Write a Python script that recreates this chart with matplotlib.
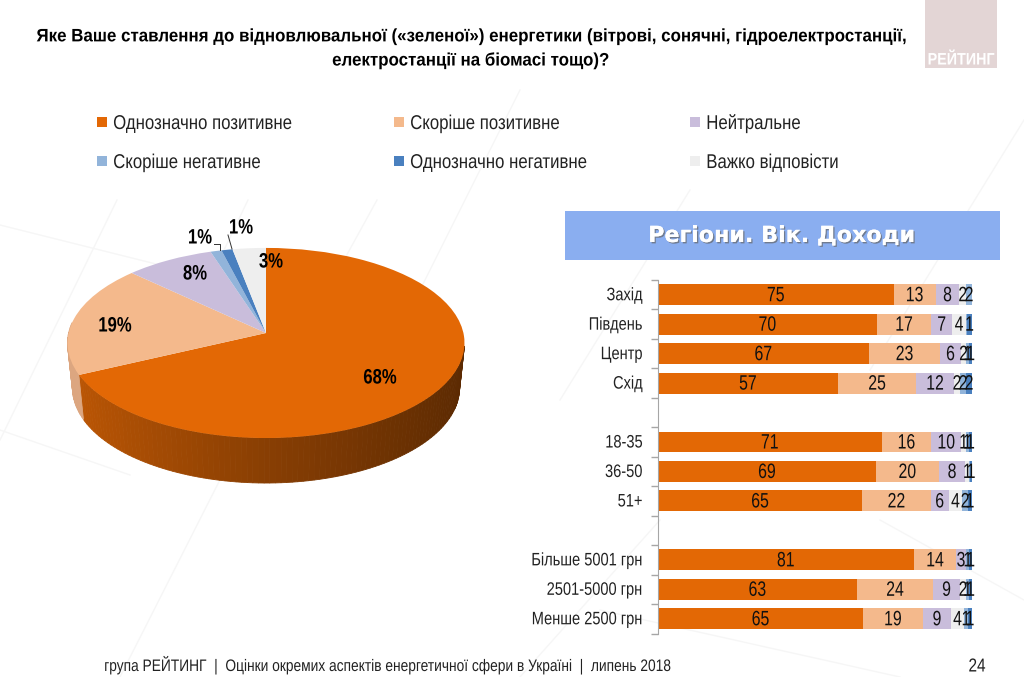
import numpy as np
from matplotlib import pyplot as plt
from matplotlib.transforms import Affine2D, Transform
import matplotlib.patheffects as pe

plt.rcParams['font.family'] = ['Liberation Sans', 'DejaVu Sans']

legend_labels = ['Однозначно позитивне', 'Скоріше позитивне', 'Нейтральне',
                 'Скоріше негативне', 'Однозначно негативне', 'Важко відповісти']
legend_colors = ['#e36805', '#f4b98c', '#c9bddb', '#92b4da', '#4a80bf', '#eeeeee']

pie_values = [68, 19, 8, 1, 1, 3]
pie_colors = ['#e36805', '#f4b98c', '#c9bddb', '#92b4da', '#4a80bf', '#eeeeee']

row_labels = ['Захід', 'Південь', 'Центр', 'Схід', '',
              '18-35', '36-50', '51+', '',
              'Більше 5001 грн', '2501-5000 грн', 'Менше 2500 грн']
very_positive = [75.0, 69.7, 67.1, 57.3, 0, 71.2, 69.4, 65.0, 0, 81.4, 63.3, 65.3]
rather_positive = [13.4, 17.3, 22.8, 24.9, 0, 15.8, 20.0, 21.8, 0, 13.6, 24.3, 19.0]
neutral = [7.6, 6.7, 6.5, 12.0, 0, 9.6, 8.5, 5.8, 0, 3.0, 8.6, 9.1]
hard_to_say = [2.1, 4.4, 1.8, 2.0, 0, 1.4, 1.2, 4.3, 0, 0.2, 1.9, 4.0]
rather_negative = [1.9, 0.4, 0.9, 1.9, 0, 1.0, 0.3, 1.8, 0, 0.9, 0.95, 1.3]
very_negative = [0.0, 1.4, 0.9, 1.9, 0, 1.0, 0.6, 1.3, 0, 0.9, 0.95, 1.3]
bar_series = [very_positive, rather_positive, neutral, hard_to_say, rather_negative, very_negative]
bar_colors = ['#e36805', '#f4b98c', '#c9bddb', '#eeeeee', '#92b4da', '#4a80bf']

W, H = 1024, 677


class Tilt(Transform):
    # unit circle -> slightly perspective ellipse, in pixels around the apex
    input_dims = 2
    output_dims = 2
    is_affine = False

    def transform_non_affine(self, values):
        values = np.asarray(values)
        w = 1 + 0.105 * values[:, 1]
        return np.column_stack((197.4 * values[:, 0] / w, 94 * values[:, 1] / w))


class Squeeze(pe.AbstractPathEffect):
    # the reference font is condensed, none is installed, so narrow the glyphs
    def __init__(self, sx, anchor=0.5):
        super().__init__()
        self.sx = sx
        self.anchor = anchor

    def draw_path(self, renderer, gc, tpath, affine, rgbFace=None):
        ext = tpath.get_extents()
        pivot = ext.x0 + self.anchor * ext.width
        squeezed = Affine2D().translate(-pivot, 0).scale(self.sx, 1).translate(pivot, 0) + affine
        renderer.draw_path(gc, tpath, squeezed, rgbFace)


fig = plt.figure(figsize=(W / 100, H / 100), dpi=100, facecolor='white')

bg = fig.add_axes([0, 0, 1, 1], zorder=0)
bg.set_xlim(0, W)
bg.set_ylim(H, 0)
bg.axis('off')

for x0, y0, x1, y1 in [(117, 200, 0, 440), (0, 225, 160, 265), (248, 200, 200, 300),
                       (377, 200, 300, 340), (520, 90, 400, 330), (690, 190, 560, 400),
                       (1024, 120, 870, 370), (0, 430, 130, 475), (600, 610, 900, 677),
                       (1024, 600, 880, 520), (120, 677, 230, 460), (520, 677, 660, 520)]:
    bg.plot([x0, x1], [y0, y1], color='#f6f6f6', lw=1, zorder=1)

bg.fill_between([925, 997], 0, 68, color='#e3d5d5', lw=0, zorder=2)
bg.text(961, 60, 'РЕЙТИНГ', color='white', fontsize=12, fontweight='bold',
        ha='center', va='center', path_effects=[Squeeze(0.86)], zorder=3)

title_fx = [Squeeze(0.937)]
bg.text(470, 36.5, 'Яке Ваше ставлення до відновлювальної («зеленої») енергетики (вітрові, сонячні, гідроелектростанції,',
        fontsize=13, fontweight='bold', ha='center', va='center', path_effects=title_fx)
bg.text(470, 60.5, 'електростанції на біомасі тощо)?', fontsize=13, fontweight='bold',
        ha='center', va='center', path_effects=title_fx)

for i, (label, color) in enumerate(zip(legend_labels, legend_colors)):
    lx = [97, 394, 690][i % 3]
    ly = [122, 161][i // 3]
    bg.scatter([lx + 5], [ly], marker='s', s=60, color=color, lw=0, zorder=3)
    bg.text(lx + 16, ly + 1.5, label, fontsize=14.4, ha='left', va='center', color='#222222',
            path_effects=[Squeeze(0.84, 0)])

bg.fill_between([565, 1000], 211, 260, color='#8aaef0', lw=0, zorder=2)
bg.text(782, 236, 'Регіони. Вік. Доходи', color='white', fontsize=16, fontweight='bold',
        family=['DejaVu Sans'], ha='center', va='center', zorder=3,
        path_effects=[pe.withSimplePatchShadow(offset=(1, -1), shadow_rgbFace='#666666', alpha=0.7), pe.Normal()])

bg.text(104, 665, 'група РЕЙТИНГ  |  Оцінки окремих аспектів енергетичної сфери в Україні  |  липень 2018',
        fontsize=12, ha='left', va='center', color='#222222', path_effects=[Squeeze(0.826, 0)])
bg.text(977, 667, '24', fontsize=13.5, ha='center', va='center', color='#222222', path_effects=[Squeeze(0.82)])

# pie, top face plus a shaded rim
pie_ax = fig.add_axes([0, 0, 1, 1], zorder=1)
wedges, _ = pie_ax.pie(pie_values, colors=pie_colors, startangle=90, counterclock=False,
                       wedgeprops={'linewidth': 0})
pie_ax.set_aspect('auto')
pie_ax.set_xlim(-266, W - 266)
pie_ax.set_ylim(333 - H, 333)
pie_ax.axis('off')
tilt = Tilt()
for wedge in wedges:
    wedge.set_transform(tilt + pie_ax.transData)
    wedge.set_clip_on(False)
    wedge.set_zorder(3)

orange_end = 90 - 360 * pie_values[0] / sum(pie_values)
angles = np.deg2rad(np.arange(-8, -188, -1.5))
for a0, a1 in zip(angles[:-1], angles[1:]):
    rim = tilt.transform_non_affine(np.array([[np.cos(a0), np.sin(a0)], [np.cos(a1), np.sin(a1)]]))
    low = rim[::-1] * [0.975, 1] - [0, 45]
    poly = np.vstack((rim, low))
    if np.rad2deg(a1) >= orange_end - 1:
        shade = np.interp(np.cos((a0 + a1) / 2), [-1, 0, 1], [0.84, 0.60, 0.40])
        color = np.array([0xe3, 0x68, 0x05]) / 255 * shade
    else:
        color = np.array([0xdc, 0xa6, 0x80]) / 255
    pie_ax.fill(poly[:, 0], poly[:, 1], color=color, lw=0.6, zorder=2, clip_on=False)

for text, px, py in [('68%', 380, 378), ('19%', 115, 326), ('8%', 195, 274),
                     ('1%', 200, 238), ('1%', 241, 228), ('3%', 271, 262)]:
    pie_ax.text(px - 266, 333 - py, text, fontsize=15, fontweight='bold', ha='center', va='center',
                zorder=10, path_effects=[Squeeze(0.8)])
pie_ax.plot([214 - 266, 220 - 266, 220 - 266], [333 - 244, 333 - 244, 333 - 250], color='#333333', lw=0.7, zorder=10)
pie_ax.plot([228 - 266, 232 - 266], [333 - 235, 333 - 249], color='#333333', lw=0.7, zorder=10)

# stacked bars
ax = fig.add_axes([658 / W, 1 - 633.5 / H, 314 / W, 353.5 / H], zorder=2)
ax.patch.set_alpha(0)
y = np.arange(len(row_labels))
left = np.zeros(len(row_labels))
for values, color in zip(bar_series, bar_colors):
    values = np.array(values, dtype=float)
    ax.barh(y, values, left=left, height=0.71, color=color, lw=0)
    for yi, v, l in zip(y, values, left):
        if v >= 0.5:
            ax.annotate(f'{v:.0f}', (l + v / 2, yi), xytext=(0, -1), textcoords='offset pixels',
                        ha='center', va='center', fontsize=15, color='#111111',
                        path_effects=[Squeeze(0.76)])
    left = left + values

ax.set_xlim(0, 100)
ax.set_ylim(len(row_labels) - 0.5, -0.5)
ax.set_xticks([])
ax.set_yticks(np.arange(-0.5, len(row_labels)))
ax.set_yticklabels([])
ax.tick_params(axis='y', length=5, color='#a6a6a6', width=1)
for name in ['top', 'right', 'bottom']:
    ax.spines[name].set_visible(False)
ax.spines['left'].set_color('#a6a6a6')
for yi, label in zip(y, row_labels):
    ax.annotate(label, (0, yi), xycoords=('axes fraction', 'data'), xytext=(-15.5, -1),
                textcoords='offset pixels', ha='right', va='center', fontsize=13, color='#222222',
                path_effects=[Squeeze(0.81, 1)])

fig.savefig('out.png', dpi=100)
